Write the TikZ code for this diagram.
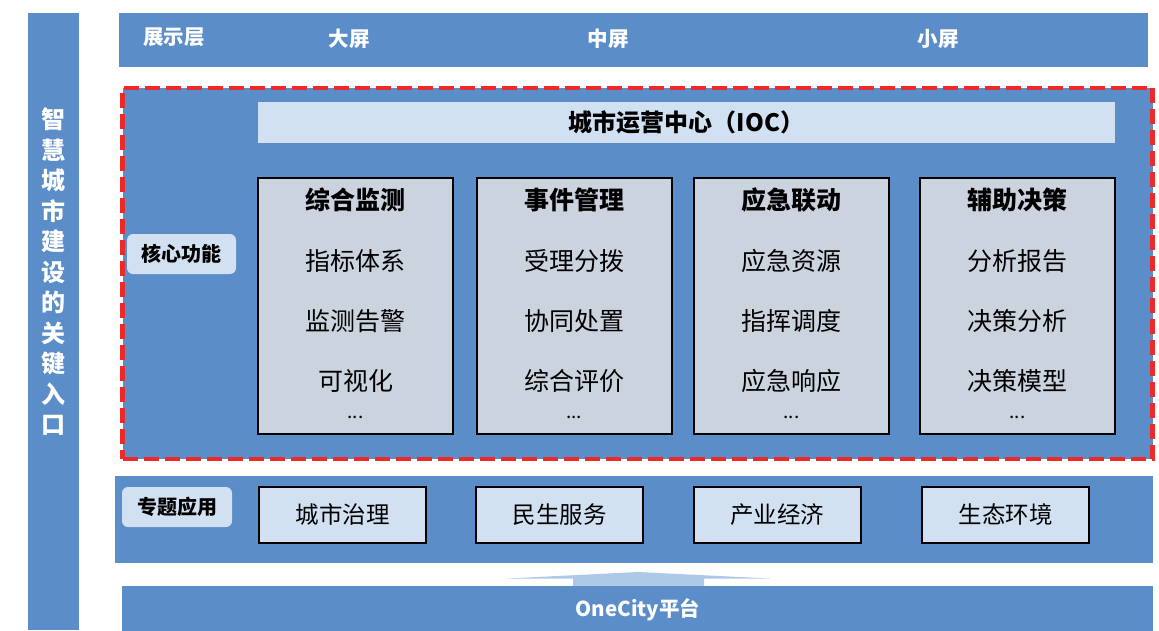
\documentclass[tikz,border=0pt]{standalone}
\usepackage{fontspec}
\setmainfont{Noto Sans CJK SC}
\definecolor{band}{HTML}{5B8DC8}
\definecolor{pale}{HTML}{D2E1F2}
\definecolor{greybox}{HTML}{CBD3DE}
\definecolor{dashred}{HTML}{EC2A2A}
\definecolor{arrowblue}{HTML}{AEC8E7}
\tikzset{
  bandbox/.style={fill=band, draw=none, inner sep=0pt},
  bandtext/.style={text=white, font=\bfseries\fontsize{20.5}{23}\selectfont, inner sep=0pt},
  tagbox/.style={fill=pale, draw=none, rounded corners=6pt, inner sep=0pt, font=\bfseries\fontsize{20}{23}\selectfont, text=black},
  funcbox/.style={fill=greybox, draw=black, line width=2pt, inner sep=0pt, minimum width=195pt, minimum height=256pt},
  functitle/.style={font=\bfseries\fontsize{25}{28}\selectfont, inner sep=0pt},
  funcitem/.style={font=\fontsize{25}{28}\selectfont, inner sep=0pt},
  appbox/.style={fill=pale, draw=black, line width=2pt, inner sep=0pt, minimum width=167pt, minimum height=56pt, font=\fontsize{23.5}{26}\selectfont},
}
\begin{document}
\begin{tikzpicture}[x=1pt,y=-1pt]
\useasboundingbox (0,0) rectangle (1159,630);
\fill[white] (0,0) rectangle (1159,630);
% left bar
\node[bandbox, minimum width=51pt, minimum height=617pt] (left) at (53.5,321.5) {};
\node[text=white, font=\bfseries\fontsize{24}{30.5}\selectfont, align=center, inner sep=0pt] (lefttext) at (53.5,272) {智\\慧\\城\\市\\建\\设\\的\\关\\键\\入\\口};
% top bar
\node[bandbox, minimum width=1029pt, minimum height=54pt] (top) at (633.5,40) {};
\node[bandtext] (t0) at (174,37) {展示层};
\node[bandtext] (t1) at (349,39) {大屏};
\node[bandtext] (t2) at (608,39) {中屏};
\node[bandtext] (t3) at (938,39) {小屏};
% core
\node[bandbox, minimum width=1030pt, minimum height=371pt, draw=dashred, line width=4.5pt, dash pattern=on 15pt off 6pt] (core) at (637.5,273.5) {};
\node[fill=pale, inner sep=0pt, minimum width=857pt, minimum height=41pt, font=\bfseries\fontsize{24}{27}\selectfont] (ioc) at (686.5,122.5) {城市运营中心（IOC）};
\node[tagbox, minimum width=109pt, minimum height=40pt] (coretag) at (181.5,254) {核心功能};
\foreach \n/\cx/\ti/\a/\b/\c in {f1/355.5/综合监测/指标体系/监测告警/可视化, f2/574/事件管理/受理分拨/协同处置/综合评价, f3/791.5/应急联动/应急资源/指挥调度/应急响应, f4/1017.5/辅助决策/分析报告/决策分析/决策模型}{
  \node[funcbox] (\n) at (\cx,306) {};
  \node[functitle] (\n-t) at (\cx,200) {\ti};
  \node[funcitem] (\n-a) at (\cx,261) {\a};
  \node[funcitem] (\n-b) at (\cx,321) {\b};
  \node[funcitem] (\n-c) at (\cx,381) {\c};
  \node[font=\fontsize{19}{20}\selectfont, inner sep=0pt] (\n-d) at (\cx,417) {...};
}
% applications
\node[bandbox, minimum width=1038pt, minimum height=87pt] (apps) at (634,519.5) {};
\node[tagbox, minimum width=110pt, minimum height=40pt] (apptag) at (177,507) {专题应用};
\node[appbox] (a1) at (342.5,515) {城市治理};
\node[appbox] (a2) at (559.5,515) {民生服务};
\node[appbox] (a3) at (777,515) {产业经济};
\node[appbox] (a4) at (1005.5,515) {生态环境};
% arrow
\fill[arrowblue] (573,586) -- (573,578.5) -- (507,578.5) -- (638,572) -- (770,578.5) -- (704,578.5) -- (704,586) -- cycle;
% platform
\node[bandbox, minimum width=1031pt, minimum height=45pt] (base) at (637.5,608.5) {};
\node[bandtext] (basetext) at (638,610) {OneCity平台};
\end{tikzpicture}
\end{document}
